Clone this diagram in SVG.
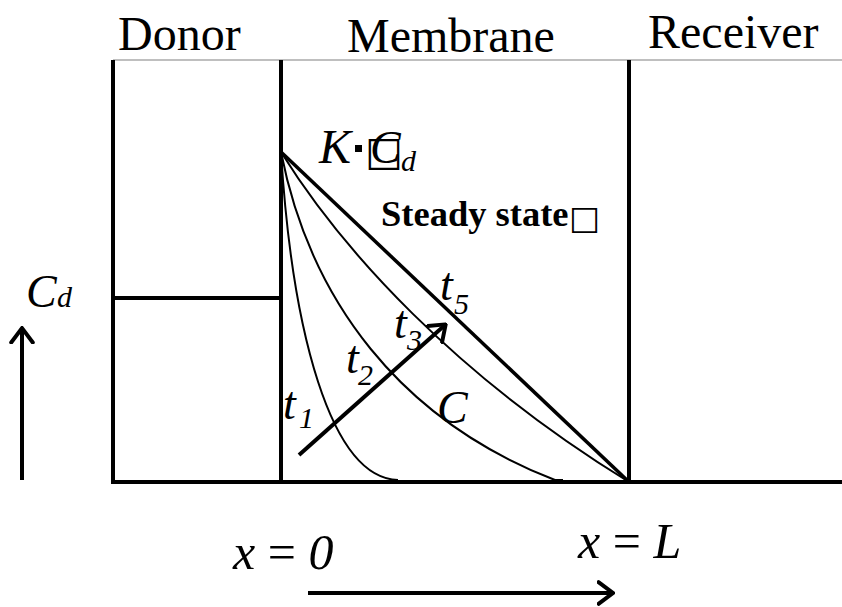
<svg xmlns="http://www.w3.org/2000/svg" width="842" height="607" viewBox="0 0 842 607">
<defs>
<style>
.serif{font-family:"Liberation Serif","Times New Roman",serif;fill:#000}
.it{font-style:italic}
.frame{stroke:#000;stroke-width:4;fill:none}
.thin{stroke:#000;stroke-width:2;fill:none}
.arr{stroke:#000;stroke-width:4;fill:none}
.box{font-family:"DejaVu Sans",sans-serif;font-weight:bold;fill:#000}
</style>
<marker id="chev" viewBox="0 0 10 14" refX="8.5" refY="7" markerWidth="4.5" markerHeight="6.3" orient="auto" markerUnits="strokeWidth">
<path d="M1,1 L9,7 L1,13" fill="none" stroke="#000" stroke-width="2.2" stroke-linecap="round" stroke-linejoin="miter"/>
</marker>
</defs>
<rect width="842" height="607" fill="#fff"/>
<g id="frame">
<line x1="113" y1="60" x2="842" y2="60" stroke="#aaa" stroke-width="1.5"/>
<line x1="113" y1="60" x2="113" y2="483" class="frame"/>
<line x1="281" y1="60" x2="281" y2="483" class="frame"/>
<line x1="629" y1="60" x2="629" y2="483" class="frame"/>
<line x1="111" y1="482" x2="842" y2="482" class="frame"/>
<line x1="113" y1="298" x2="281" y2="298" class="frame"/>
</g>
<g id="labels-top">
<text class="serif" x="118" y="50" font-size="48">Donor</text>
<text class="serif" x="347" y="52" font-size="48">Membrane</text>
<text class="serif" x="648" y="48" font-size="48">Receiver</text>
</g>
<g id="profiles">
<path class="thin" d="M281,152 C292,330 330,478 398,480"/>
<path class="thin" d="M281,152 C310,300 400,420 555,480 L563,480"/>
<path class="thin" d="M281,152 C342,250 455,375 629,482"/>
<line x1="281" y1="152" x2="629" y2="482" stroke="#000" stroke-width="3.5"/>
</g>
<g id="connectors">
<line x1="299" y1="455" x2="445" y2="325" class="arr" stroke-width="3.5" marker-end="url(#chev)"/>
<line x1="22" y1="480" x2="22" y2="329" class="arr" marker-end="url(#chev)"/>
<line x1="308" y1="593" x2="612" y2="593" class="arr" marker-end="url(#chev)"/>
</g>
<g id="label-kcd">
<text class="serif it" x="319" y="163" font-size="48">K</text>
<rect x="355" y="145" width="7" height="7" fill="#000"/>
<text class="serif it" x="370" y="163" font-size="46">C</text>
<text class="box" x="365" y="165" font-size="40">□</text>
<text class="serif it" x="401" y="171" font-size="30">d</text>
</g>
<g id="label-steady">
<text class="serif" x="381" y="226" font-size="36.5" font-weight="bold">Steady state</text>
<text class="box" x="569" y="229" font-size="33">□</text>
</g>
<g id="label-cd">
<text class="serif it" x="26" y="307" font-size="46">C</text>
<text class="serif it" x="57" y="307" font-size="30">d</text>
</g>
<g id="label-t">
<text class="serif it" x="283" y="419" font-size="46">t</text>
<text class="serif it" x="299" y="428" font-size="30">1</text>
<text class="serif it" x="346" y="373" font-size="46">t</text>
<text class="serif it" x="358" y="385" font-size="30">2</text>
<text class="serif it" x="394" y="338" font-size="46">t</text>
<text class="serif it" x="407" y="350" font-size="30">3</text>
<text class="serif it" x="440" y="300" font-size="46">t</text>
<text class="serif it" x="454" y="314" font-size="30">5</text>
<text class="serif it" x="437" y="423" font-size="46">C</text>
</g>
<g id="label-x">
<text class="serif" x="233" y="569" font-size="50"><tspan class="it">x</tspan> = <tspan class="it">0</tspan></text>
<text class="serif" x="578" y="558" font-size="50"><tspan class="it">x</tspan> = <tspan class="it">L</tspan></text>
</g>
</svg>
